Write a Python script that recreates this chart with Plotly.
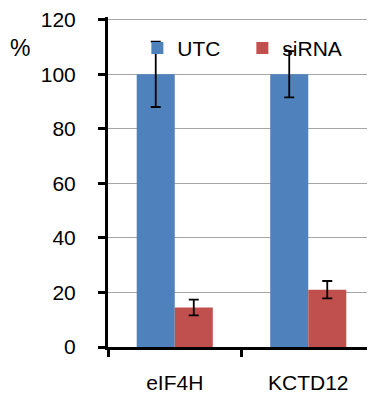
import plotly.graph_objects as go

categories = ["eIF4H", "KCTD12"]
utc_values = [100, 100]
utc_errors = [12, 8.5]
sirna_values = [14.5, 21]
sirna_errors = [2.9, 3.2]
y_ticks = [0, 20, 40, 60, 80, 100, 120]

font_family = "Liberation Sans, Arial, sans-serif"

fig = go.Figure()
fig.add_trace(go.Bar(
    name="UTC", x=categories, y=utc_values,
    marker=dict(color="#4f81bd", line=dict(width=0)),
    error_y=dict(type="data", array=utc_errors, color="black", thickness=1.8, width=5),
))
fig.add_trace(go.Bar(
    name="siRNA", x=categories, y=sirna_values,
    marker=dict(color="#c0504d", line=dict(width=0)),
    error_y=dict(type="data", array=sirna_errors, color="black", thickness=1.8, width=5),
))

# page body has an 8px margin, so the figure is offset by 8px right and down
fig.update_layout(
    width=367, height=388,
    margin=dict(l=100, r=0, t=5, b=49),
    paper_bgcolor="white", plot_bgcolor="white",
    barmode="group", bargap=0.43, bargroupgap=0,
    font=dict(family=font_family, size=21, color="black"),
    showlegend=True,
    legend=dict(orientation="h", x=0.11, y=0.905, xanchor="left", yanchor="middle",
                bgcolor="rgba(0,0,0,0)", font=dict(size=21), itemwidth=30,
                traceorder="normal", entrywidth=60, entrywidthmode="pixels"),
    xaxis=dict(showline=True, linecolor="black", linewidth=3,
               ticks="outside", ticklen=7, tickwidth=3, tickcolor="black",
               tickson="boundaries", showgrid=False, ticklabelstandoff=15,
               tickfont=dict(size=21)),
    yaxis=dict(range=[0, 121], tickvals=y_ticks, showline=True, linecolor="black", linewidth=3,
               ticks="outside", ticklen=7, tickwidth=3, tickcolor="black",
               showgrid=True, gridcolor="#a6a6a6", gridwidth=1, zeroline=False,
               ticklabeloverflow="allow",
               ticklabelstandoff=18, tickfont=dict(size=21)),
    annotations=[dict(text="%", xref="paper", yref="paper", x=-0.33, y=0.905,
                      xanchor="center", yanchor="middle", showarrow=False,
                      font=dict(size=23))],
)

fig.write_html("out.html")
